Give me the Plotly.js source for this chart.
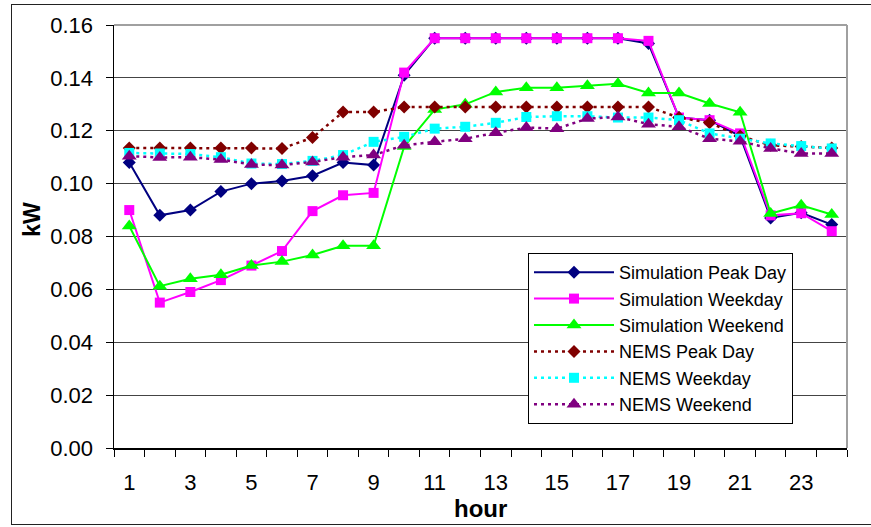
<!DOCTYPE html>
<html>
<head>
<meta charset="utf-8">
<script src="https://cdn.plot.ly/plotly-3.0.1.min.js"></script>
<style>
  html, body { margin: 0; padding: 0; background: #fff; }
  #chart { width: 871px; height: 527px; position: relative; }
  #frame { position: absolute; left: 11px; top: 4px; width: 900px; height: 521px;
           border: 1.5px solid #222; pointer-events: none; box-sizing: border-box; }
</style>
</head>
<body>
<div id="chart"></div>
<div id="frame"></div>
<script>
const hours = [1,2,3,4,5,6,7,8,9,10,11,12,13,14,15,16,17,18,19,20,21,22,23,24];
const simPeak    = [0.108,0.088,0.090,0.097,0.100,0.101,0.103,0.108,0.107,0.141,0.155,0.155,0.155,0.155,0.155,0.155,0.155,0.153,0.125,0.124,0.118,0.087,0.089,0.0845];
const simWeekday = [0.090,0.055,0.059,0.0635,0.069,0.0745,0.0896,0.0956,0.0965,0.142,0.155,0.155,0.155,0.155,0.155,0.155,0.155,0.154,0.125,0.124,0.119,0.088,0.0888,0.082];
const simWeekend = [0.084,0.0612,0.064,0.0655,0.069,0.0705,0.073,0.0765,0.0765,0.114,0.128,0.130,0.1347,0.1363,0.1363,0.137,0.1378,0.1343,0.1343,0.1303,0.127,0.0887,0.0918,0.0883];
const nemsPeak    = [0.1135,0.1135,0.1135,0.1135,0.1135,0.1133,0.1174,0.1271,0.1271,0.129,0.129,0.129,0.129,0.129,0.129,0.129,0.129,0.129,0.125,0.123,0.118,0.1145,0.114,0.1135];
const nemsWeekday = [0.1116,0.1114,0.1112,0.110,0.1076,0.1074,0.1086,0.1108,0.1158,0.1177,0.1208,0.1215,0.123,0.1252,0.1255,0.1255,0.125,0.125,0.124,0.119,0.117,0.1152,0.1142,0.1133];
const nemsWeekend = [0.1104,0.1099,0.110,0.1091,0.1072,0.107,0.1082,0.110,0.1108,0.1145,0.1158,0.117,0.1192,0.1212,0.1208,0.1246,0.1252,0.1225,0.1215,0.117,0.116,0.1133,0.1114,0.1114];
const seriesNames = ['Simulation Peak Day','Simulation Weekday','Simulation Weekend','NEMS Peak Day','NEMS Weekday','NEMS Weekend'];
const xTickVals = [1,3,5,7,9,11,13,15,17,19,21,23];
const yTickVals = [0,0.02,0.04,0.06,0.08,0.10,0.12,0.14,0.16];

const FONT = 'Liberation Sans, Arial, sans-serif';
function tr(y, name, color, symbol, size, dash) {
  return {
    x: hours, y: y, name: name, type: 'scatter', mode: 'lines+markers',
    line: {color: color, width: dash ? 2.5 : 2, dash: dash || 'solid'},
    marker: {color: color, symbol: symbol, size: size}
  };
}
const data = [
  tr(simPeak, seriesNames[0], '#000080', 'diamond', 10),
  tr(simWeekday, seriesNames[1], '#FF00FF', 'square', 10),
  tr(simWeekend, seriesNames[2], '#00FF00', 'triangle-up', 13),
  tr(nemsPeak, seriesNames[3], '#800000', 'diamond', 10, '3px,4px'),
  tr(nemsWeekday, seriesNames[4], '#00FFFF', 'square', 10, '3px,4px'),
  tr(nemsWeekend, seriesNames[5], '#800080', 'triangle-up', 13, '3px,4px')
];

const layout = {
  width: 871, height: 527,
  margin: {l: 114, r: 24, t: 25, b: 79},
  paper_bgcolor: '#fff', plot_bgcolor: '#fff',
  font: {family: FONT, color: '#000'},
  showlegend: true,
  legend: {
    x: 0.5648, y: 0.461, xanchor: 'left', yanchor: 'top',
    bgcolor: '#fff', bordercolor: '#000', borderwidth: 1,
    font: {family: FONT, size: 18, color: '#000'},
    itemwidth: 80, tracegroupgap: 0
  },
  xaxis: {
    type: 'linear', range: [0.5, 24.5], fixedrange: true,
    tickmode: 'array', tickvals: xTickVals, ticktext: xTickVals.map(String),
    ticks: 'outside', ticklen: 7, tickcolor: 'rgba(0,0,0,0)',
    ticklabelstandoff: 7,
    tickfont: {family: FONT, size: 22, color: '#000'},
    minor: {tick0: 0.5, dtick: 1, ticks: 'outside', ticklen: 7, tickcolor: '#000', tickwidth: 1, showgrid: false},
    showgrid: false, zeroline: false,
    showline: true, linecolor: '#000', linewidth: 1.5
  },
  yaxis: {
    range: [0, 0.16], fixedrange: true,
    tickmode: 'array', tickvals: yTickVals, ticktext: yTickVals.map(v => v.toFixed(2)),
    ticks: 'outside', ticklen: 7, tickcolor: '#000', tickwidth: 1,
    ticklabelstandoff: 8,
    tickfont: {family: FONT, size: 22, color: '#000'},
    showgrid: true, gridcolor: '#444', gridwidth: 1,
    zeroline: false,
    showline: true, linecolor: '#000', linewidth: 1.5
  },
  shapes: [
    {type: 'line', xref: 'paper', yref: 'paper', x0: 0, x1: 1, y0: 1, y1: 1, line: {color: '#a0a0a0', width: 2}},
    {type: 'line', xref: 'paper', yref: 'paper', x0: 1, x1: 1, y0: 0, y1: 1, line: {color: '#a0a0a0', width: 2}}
  ],
  annotations: [
    {text: '<b>kW</b>', xref: 'paper', yref: 'paper', x: -0.113, y: 0.54, textangle: -90,
     showarrow: false, xanchor: 'center', yanchor: 'middle', font: {family: FONT, size: 23, color: '#000'}},
    {text: '<b>hour</b>', xref: 'paper', yref: 'paper', x: 0.5, y: -0.142,
     showarrow: false, xanchor: 'center', yanchor: 'middle', font: {family: FONT, size: 24, color: '#000'}}
  ]
};

Plotly.newPlot('chart', data, layout, {displayModeBar: false, staticPlot: true});
</script>
</body>
</html>
